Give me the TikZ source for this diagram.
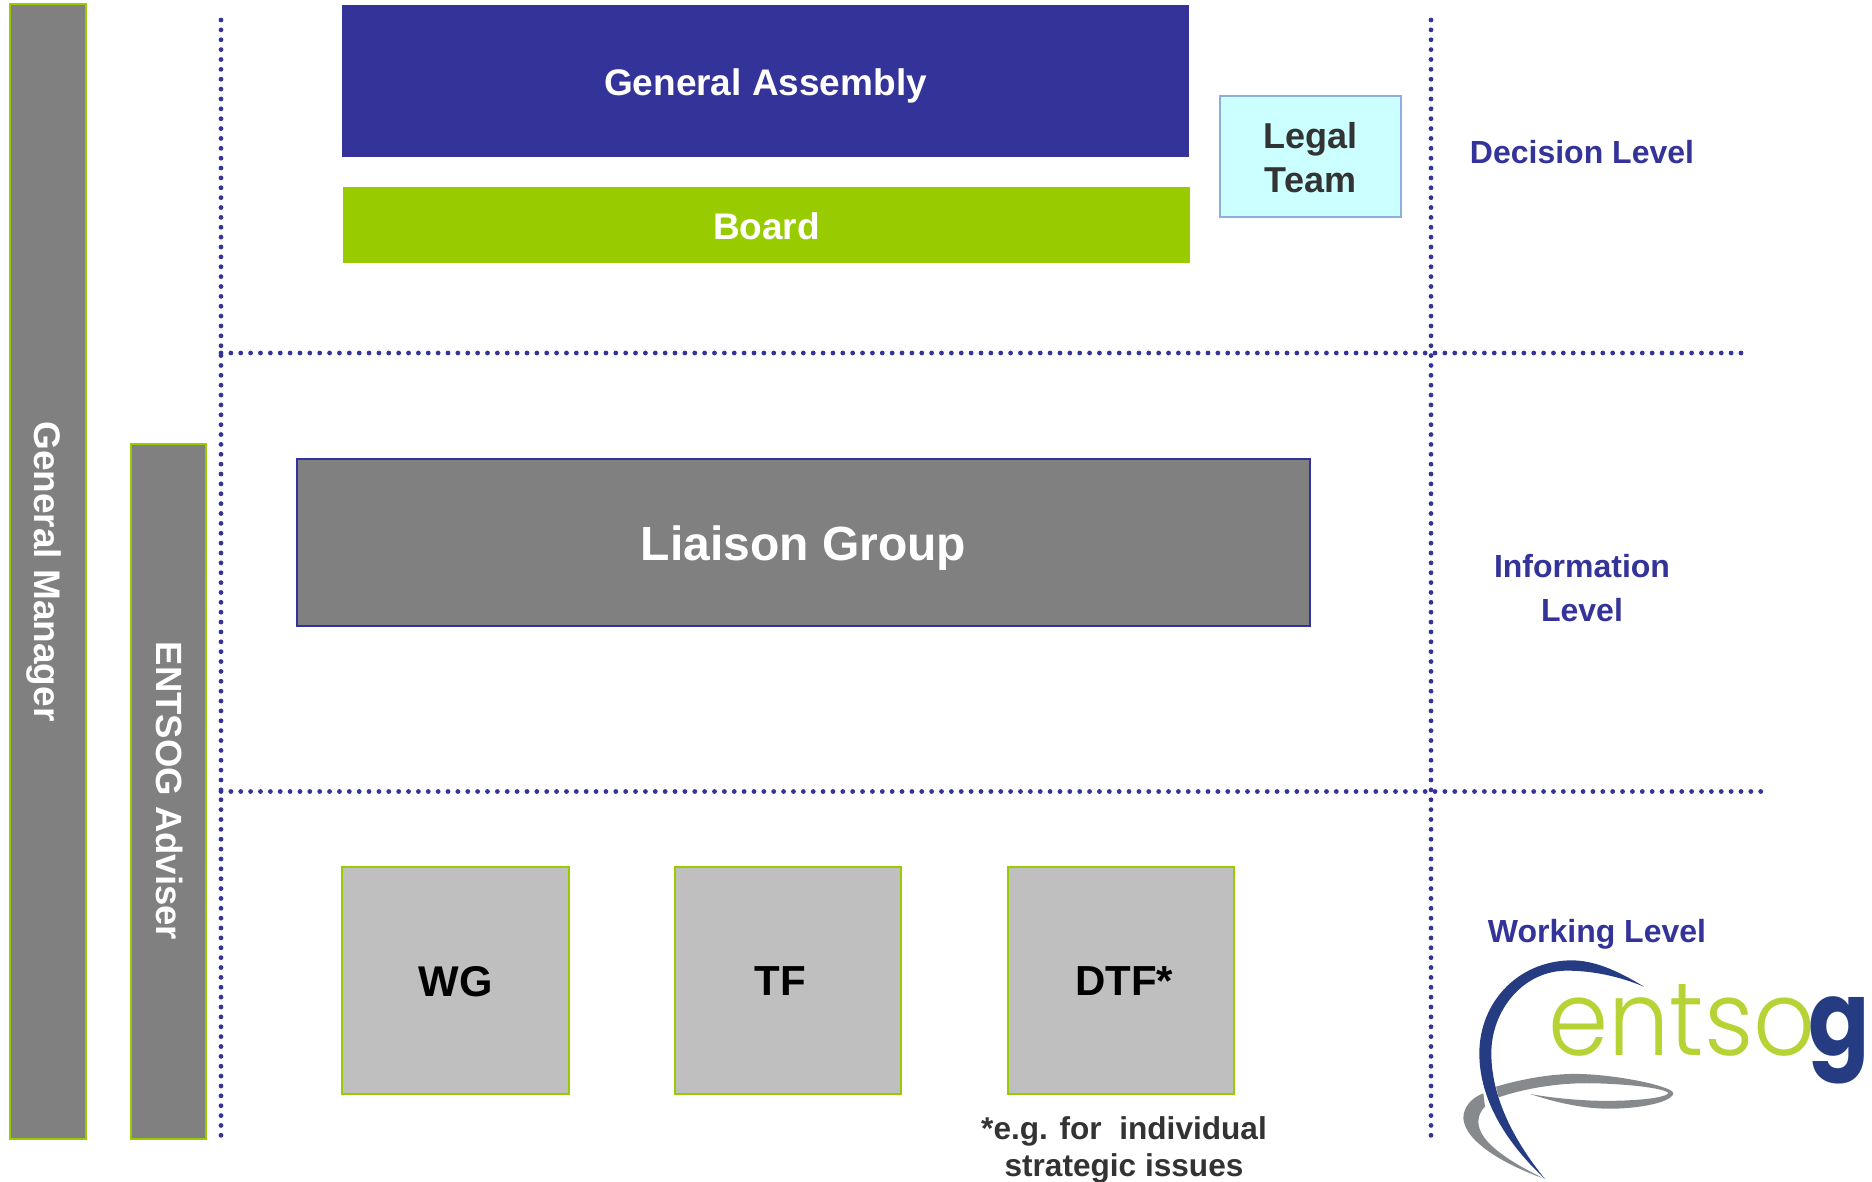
\documentclass[tikz,border=0pt]{standalone}
\usepackage{fontspec}
\usepackage{graphicx}
\setmainfont{Liberation Sans}
\newfontfamily\logofont{Poppins Light}
\newfontfamily\logobold{Poppins Bold}
\definecolor{navy}{HTML}{333399}
\definecolor{lime}{HTML}{99CC00}
\definecolor{pale}{HTML}{CCFFFF}
\definecolor{paleline}{HTML}{8FAEE0}
\definecolor{logoblue}{HTML}{253C82}
\definecolor{logogreen}{HTML}{B5D334}
\definecolor{logogrey}{HTML}{868A8D}
\newcommand{\sz}[1]{\fontsize{#1}{#1}\selectfont\bfseries}
\newcommand{\dropped}[2]{\raisebox{-#1pt}[\height][\depth]{#2}}

\begin{document}
\begin{tikzpicture}[x=1pt,y=-1pt]
    \tikzstyle{every node}=[inner sep=0pt,outer sep=0pt]
    \tikzstyle{side}=[draw=lime,line width=2pt,fill=black!50,text=white]
    \tikzstyle{work}=[draw=lime,line width=2pt,fill=black!25,minimum width=226.5pt,minimum height=227pt]
    \tikzstyle{lvl}=[text=navy,align=center]
    \tikzstyle{sep}=[navy,line width=4.8pt,line cap=round,dash pattern=on 0pt off 9.87pt]
    \useasboundingbox (0,0) rectangle (1872,1182);

    % side bars
    \node[side,minimum width=76pt,minimum height=1134pt] (manager) at (47.5,571.5)
      {\hspace*{-8pt}\rotatebox{-90}{\sz{37}General Manager}};
    \node[side,minimum width=75pt,minimum height=695pt] (adviser) at (168.5,791)
      {\hspace*{2pt}\rotatebox{-90}{\sz{36.5}ENTSOG Adviser}};

    % decision level
    \node[fill=navy,text=white,minimum width=847pt,minimum height=152pt] (assembly) at (765.5,81)
      {\dropped{5}{\sz{37}General Assembly}};
    \node[fill=lime,text=white,minimum width=847pt,minimum height=76pt] (board) at (766.5,225)
      {\dropped{1}{\sz{37}Board}};
    \node[draw=paleline,line width=1.5pt,fill=pale,text=black!80,align=center,
      minimum width=181pt,minimum height=121pt] (legal) at (1310.5,156.5)
      {\dropped{1}{\sz{36}Legal}\\[11pt]\dropped{1}{\sz{36}Team}};
    \node[lvl] (decision) at (1582,152) {\sz{32}Decision Level};

    % information level
    \node[draw=navy,line width=2pt,fill=black!50,text=white,minimum width=1013pt,minimum height=167pt]
      (liaison) at (803.5,542) {\dropped{6}{\sz{48}Liaison Group}};
    \node[lvl] (information) at (1582,588) {\sz{32}Information\\[20pt]\sz{32}Level};

    % working level
    \node[work] (wg) at (455.5,980.5) {\dropped{1}{\sz{43}WG}};
    \node[work] (tf) at (788,980.5) {\hspace*{-16pt}\dropped{1}{\sz{42}TF}};
    \node[work] (dtf) at (1121,980.5) {\hspace*{6pt}\dropped{1}{\sz{42}DTF*}};
    \node[align=center,text=black!80] (note) at (1124,1150)
      {\sz{31.6}*e.g. for\ \ individual\\[6pt]\sz{31.6}strategic issues};
    \node[lvl] (working) at (1597,934) {\sz{32}Working Level};

    % separators
    \coordinate (lefttop) at (221,20);
    \coordinate (leftbot) at (221,1137);
    \coordinate (righttop) at (1431,20);
    \coordinate (rightbot) at (1431,1138);
    \coordinate (upperl) at (221,353);
    \coordinate (upperr) at (1745,353);
    \coordinate (lowerl) at (221,791.5);
    \coordinate (lowerr) at (1763,791.5);
    \draw[sep] (lefttop) -- (leftbot);
    \draw[sep] (righttop) -- (rightbot);
    \draw[sep] (upperl) -- (upperr);
    \draw[sep] (lowerl) -- (lowerr);

    % logo
    \begin{scope}[shift={(1420,880)},x=0.3333pt,y=-0.3333pt]
      \fill[logogrey] (190,640) .. controls (150,655) and (130,685) .. (130,715)
        .. controls (135,790) and (270,860) .. (370,895)
        .. controls (280,850) and (175,790) .. (175,725)
        .. controls (175,705) and (185,690) .. (195,680) -- cycle;
      \fill[logogrey] (228,620) .. controls (330,590) and (420,580) .. (480,582)
        .. controls (600,585) and (760,620) .. (760,640)
        .. controls (755,670) and (640,688) .. (560,686)
        .. controls (480,685) and (400,665) .. (330,642)
        .. controls (420,658) and (520,665) .. (600,662)
        .. controls (680,660) and (745,650) .. (745,638)
        .. controls (720,620) and (570,608) .. (480,610)
        .. controls (390,612) and (300,630) .. (236,652) -- cycle;
      \fill[logoblue] (672,320) .. controls (590,270) and (520,240) .. (450,241)
        .. controls (290,245) and (178,370) .. (178,520)
        .. controls (178,660) and (260,790) .. (375,897)
        .. controls (280,780) and (214,650) .. (214,520)
        .. controls (214,390) and (310,272) .. (440,272)
        .. controls (520,272) and (600,290) .. (672,320) -- cycle;
      \node[anchor=base west,text=logogreen] (ents) at (385,527)
        {\scalebox{0.93}[1]{\logofont\fontsize{104}{104}\selectfont entso}};
      \node[anchor=base west,text=logoblue] (g) at (1166,527)
        {\scalebox{0.87}[1]{\logobold\fontsize{104}{104}\selectfont g}};
    \end{scope}
  \end{tikzpicture}
\end{document}
